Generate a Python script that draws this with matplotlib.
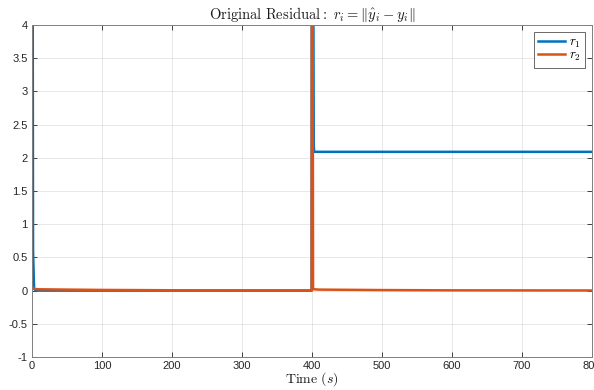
import matplotlib
matplotlib.use("Agg")
import matplotlib.pyplot as plt
from matplotlib.ticker import FormatStrFormatter

plt.rcParams['mathtext.fontset'] = 'cm'
plt.rcParams['font.family'] = ['Liberation Sans', 'DejaVu Sans']

# residual r1 (time in s)
r1_t = [0, 1.5, 3, 5, 399.5, 400, 402.5, 403, 800]
r1_v = [12.0, 0.6, 0.03, 0.0, 0.0, 12.0, 2.2, 2.09, 2.09]

# residual r2 (time in s)
r2_t = [0, 1, 3, 10, 50, 100, 200, 300, 399.5, 400, 401.5, 402, 410, 500, 600, 800]
r2_v = [0.03, 0.05, 0.025, 0.02, 0.015, 0.01, 0.005, 0.003, 0.002, 12.0, 0.05, 0.02, 0.015, 0.008, 0.004, 0.002]

blue = '#0072BD'
orange = '#D95319'
axcol = '#262626'

fig = plt.figure(figsize=(5.94, 3.9), dpi=100)
ax = fig.add_axes([32/594, 1-357/390, 560/594, 332/390])

ax.plot(r1_t, r1_v, color=blue, lw=1.8, label=r'$r_1$')
ax.plot(r2_t, r2_v, color=orange, lw=1.8, label=r'$r_2$')

ax.set_xlim(0, 800)
ax.set_ylim(-1, 4)
ax.set_xticks(range(0, 801, 100))
ax.set_yticks([-1, -0.5, 0, 0.5, 1, 1.5, 2, 2.5, 3, 3.5, 4])
ax.yaxis.set_major_formatter(FormatStrFormatter('%g'))

ax.grid(True, color='#262626', alpha=0.12, lw=0.6)
ax.tick_params(direction='in', length=3.5, width=0.6, colors=axcol,
               labelsize=8, top=True, right=True, pad=3)
for s in ax.spines.values():
    s.set_color('#808080')
    s.set_linewidth(0.7)

ax.set_title(r'$\mathrm{Original\ Residual:}\ r_i = \|\hat{y}_i - y_i\|$',
             fontsize=10.5, color='#1a1a1a', pad=4)
xl = ax.set_xlabel(r'$\mathrm{Time}\ (s)$', fontsize=10, color='#1a1a1a')
xl.set_verticalalignment('center')
ax.xaxis.set_label_coords(0.5, -0.068)

leg = ax.legend(loc='upper right', fontsize=9.5, handlelength=2.0,
                fancybox=False, borderaxespad=0.5, labelspacing=0.0,
                handletextpad=0.3, borderpad=0.35)
leg.get_frame().set_edgecolor('#262626')
leg.get_frame().set_linewidth(0.6)

fig.savefig('out.png', dpi=100)
